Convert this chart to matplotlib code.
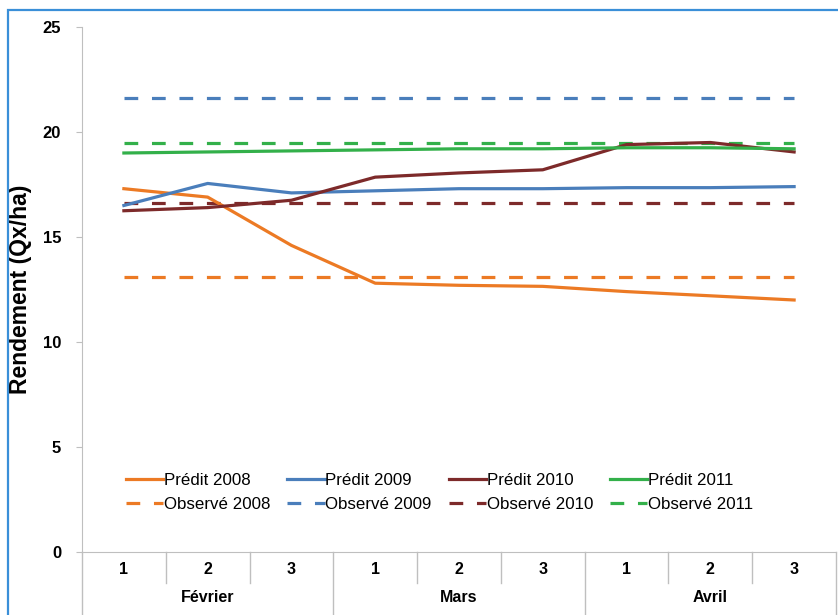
import matplotlib.pyplot as plt
from matplotlib.patches import Rectangle
from matplotlib.lines import Line2D

plt.rcParams['font.family'] = ['Liberation Sans', 'DejaVu Sans']

# data
decades = ["1", "2", "3", "1", "2", "3", "1", "2", "3"]
months = ["Février", "Mars", "Avril"]

predit_2008 = [17.3, 16.9, 14.6, 12.8, 12.7, 12.65, 12.4, 12.2, 12.0]
predit_2009 = [16.5, 17.55, 17.1, 17.2, 17.3, 17.3, 17.35, 17.35, 17.4]
predit_2010 = [16.25, 16.4, 16.75, 17.85, 18.05, 18.2, 19.4, 19.5, 19.05]
predit_2011 = [19.0, 19.05, 19.1, 19.15, 19.2, 19.2, 19.25, 19.25, 19.2]

observe_2008 = 13.1
observe_2009 = 21.6
observe_2010 = 16.6
observe_2011 = 19.5

colors = {"2008": "#EC7A24", "2009": "#4A7EBB", "2010": "#7D2A2A", "2011": "#33B04A"}

fig = plt.figure(figsize=(8.38, 6.15), dpi=100)
ax = fig.add_axes([82 / 838, 1 - 552 / 615, 754 / 838, 525 / 615])

# blue frame around the figure
fig.patches.append(Rectangle((8 / 838, -0.1), 1.2, 1 - 10 / 615 + 0.1, transform=fig.transFigure,
                             fill=False, edgecolor="#3A8FD8", linewidth=1.6))

x = list(range(len(decades)))
lw = 2.3
dash = (4.3, 4.3)
handles = []
for year, pred, obs in [("2008", predit_2008, observe_2008), ("2009", predit_2009, observe_2009),
                        ("2010", predit_2010, observe_2010), ("2011", predit_2011, observe_2011)]:
    c = colors[year]
    lp, = ax.plot(x, pred, color=c, linewidth=lw, label=f"Prédit {year}", zorder=3)
    lo, = ax.plot(x, [obs] * len(x), color=c, linewidth=lw, dashes=dash, label=f"Observé {year}", zorder=2)
    handles += [lp, lo]

ax.set_xlim(-0.5, len(x) - 0.5)
ax.set_ylim(0, 25)
ax.set_yticks([0, 5, 10, 15, 20, 25])
ax.set_xticks([])
for s in ["top", "right"]:
    ax.spines[s].set_visible(False)
ax.spines["left"].set_color("#BFBFBF")
ax.spines["bottom"].set_color("#BFBFBF")
ax.tick_params(axis="y", length=4, color="#BFBFBF", labelsize=12, pad=11)
for lab in ax.get_yticklabels():
    lab.set_fontweight("bold")
ax.set_ylabel("Rendement (Qx/ha)", fontsize=16.5, fontweight="bold")
ax.yaxis.set_label_coords((32 - 82) / 754, 0.5)

# two-level category axis
tr = ax.get_xaxis_transform()
px = 1 / 525  # one pixel in axes-y units
for i, d in enumerate(decades):
    ax.text(i, -18 * px, d, transform=tr, ha="center", va="center", fontsize=11.5, fontweight="bold")
for j, m in enumerate(months):
    ax.text(3 * j + 1, -46 * px, m, transform=tr, ha="center", va="center", fontsize=11.5, fontweight="bold")
for k in range(len(decades) + 1):
    bottom = -70 * px if k % 3 == 0 else -31 * px
    ax.add_line(Line2D([k - 0.5, k - 0.5], [0, bottom], transform=tr, color="#BFBFBF",
                       linewidth=1, clip_on=False))

ax.legend(handles=handles, ncol=4, loc="upper left", bbox_to_anchor=(0.038, 0.18),
          frameon=False, fontsize=12.2, handlelength=2.2, handletextpad=0.05,
          columnspacing=1.0, labelspacing=0.55)

fig.savefig("out.png", dpi=100)
